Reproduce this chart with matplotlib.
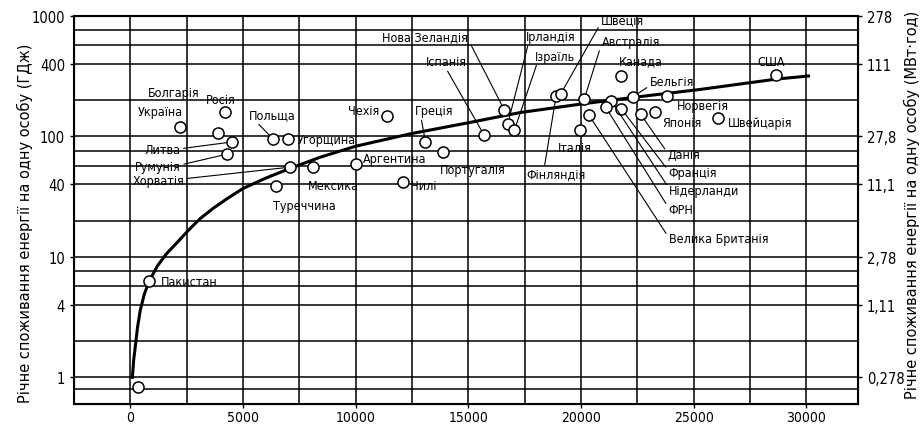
import matplotlib.pyplot as plt

plt.rcParams['font.family'] = ['DejaVu Sans']
plt.rcParams['font.stretch'] = 'condensed'

# data: GDP per person ($) and energy per person (GJ)
countries = ['Україна', 'Болгарія', 'Росія', 'Литва', 'Румунія', 'Хорватія',
             'Польща', 'Угорщина', 'Туреччина', 'Мексика', 'Аргентина', 'Чилі',
             'Чехія', 'Греція', 'Португалія', 'Іспанія', 'Нова Зеландія',
             'Ірландія', 'Ізраїль', 'Фінляндія', 'Швеція', 'Австралія', 'Канада',
             'Бельгія', 'Норвегія', 'Японія', 'Швейцарія', 'США', 'Данія',
             'Франція', 'Нідерланди', 'ФРН', 'Велика Британія', 'Італія',
             'Пакистан', '']
gdp = [2200, 3900, 4200, 4500, 4300, 7100,
       6350, 7000, 6450, 8100, 10000, 12100,
       11400, 13100, 13900, 15700, 16600,
       16750, 17050, 18900, 19100, 20150, 21800,
       22300, 23800, 23300, 26100, 28650, 22650,
       21800, 21350, 21100, 20350, 19950,
       850, 350]
energy = [120, 107, 160, 90, 71.4, 55.7,
          95, 95, 38.7, 55.7, 59, 41.8,
          148, 90, 74.2, 103, 166,
          127, 113, 217, 225, 205, 318,
          213, 217, 160, 142, 324, 153,
          169, 197, 175, 151, 113,
          6.28, 0.83]

# trend curve
curve_x = [90, 150, 220, 320, 440, 620, 840, 1200, 1600, 2100, 2600, 3100,
           3700, 4300, 5000, 6000, 7000, 8400, 10000, 12400, 15000, 17300,
           20100, 22400, 25300, 28700, 30100]
curve_y = [1.0, 1.4, 1.8, 2.6, 3.6, 4.9, 6.3, 8.4, 10.6, 13.3, 16.8, 20.8,
           25.5, 30.5, 37, 45, 53.5, 67, 83, 105, 130, 158,
           187, 212, 246, 300, 318]

y_ticks = [1, 4, 10, 40, 100, 400, 1000]
y_tick_labels = ['1', '4', '10', '40', '100', '400', '1000']
y_tick_labels_mwh = ['0,278', '1,11', '2,78', '11,1', '27,8', '111', '278']
y_extra_grid = [0.8, 2, 5.7, 7.6, 20, 57, 76, 200, 570, 760]
x_ticks = [0, 5000, 10000, 15000, 20000, 25000, 30000]
x_extra_grid = [2500, 7500, 12500, 17500, 22500, 27500]

# label placement: offset in pixels, alignment, leader start (relpos) or None
layout = {
    'Україна': (-20, 15, 'center', None),
    'Болгарія': (-45, 40, 'center', None),
    'Росія': (-4, 12, 'center', None),
    'Литва': (-69, -8, 'center', (1, 0.6)),
    'Румунія': (-69, -12, 'center', (1, 0.6)),
    'Хорватія': (-132, -13, 'center', (1, 0.6)),
    'Польща': (-1, 24, 'center', (0.15, 0)),
    'Угорщина': (9, 0, 'left', None),
    'Туреччина': (29, -19, 'center', None),
    'Мексика': (21, -18, 'center', None),
    'Аргентина': (7, 6, 'left', None),
    'Чилі': (8, -3, 'left', None),
    'Чехія': (-24, 5, 'center', None),
    'Греція': (9, 31, 'center', (0.15, 0)),
    'Португалія': (29, -17, 'center', None),
    'Іспанія': (-38, 73, 'center', (0.5, 0)),
    'Нова Зеландія': (-79, 73, 'center', (1, 0.3)),
    'Ірландія': (43, 87, 'center', (0.05, 0)),
    'Ізраїль': (41, 74, 'center', (0.05, 0)),
    'Фінляндія': (0, -78, 'center', (0.3, 1)),
    'Швеція': (62, 74, 'center', (0, 0.3)),
    'Австралія': (47, 57, 'center', (0, 0.5)),
    'Канада': (19, 15, 'center', None),
    'Бельгія': (39, 15, 'center', (0, 0.2)),
    'Норвегія': (36, -10, 'center', None),
    'Японія': (27, -11, 'center', None),
    'Швейцарія': (10, -4, 'left', None),
    'США': (-5, 14, 'center', None),
    'Данія': (27, -40, 'left', (0, 0.6)),
    'Франція': (47, -63, 'left', (0, 0.6)),
    'Нідерланди': (58, -89, 'left', (0, 0.6)),
    'ФРН': (63, -102, 'left', (0, 0.6)),
    'Велика Британія': (80, -124, 'left', (0, 0.6)),
    'Італія': (-5, -17, 'center', None),
    'Пакистан': (11, 0, 'left', None),
}

fig = plt.figure(figsize=(9.24, 4.27), dpi=100)
ax = fig.add_axes([0.0801, 0.0515, 0.8485, 0.9085])
ax.set_yscale('log')
ax.set_xlim(-2500, 32300)
ax.set_ylim(0.6, 1000)

for v in y_ticks + y_extra_grid:
    ax.axhline(v, color='black', lw=1.1, zorder=1)
for v in x_ticks + x_extra_grid:
    ax.axvline(v, color='black', lw=1.1, zorder=1)

ax.plot(curve_x, curve_y, color='black', lw=2.2, zorder=3)
ax.scatter(gdp, energy, s=64, facecolor='white', edgecolor='black',
           linewidth=1.1, zorder=4)

for name, x, y in zip(countries, gdp, energy):
    if name not in layout:
        continue
    dx, dy, ha, rel = layout[name]
    props = None
    if rel is not None:
        props = dict(arrowstyle='-', color='black', lw=0.8, relpos=rel,
                     shrinkA=0, shrinkB=4)
    ax.annotate(name, (x, y), xytext=(dx, dy), textcoords='offset pixels',
                ha=ha, va='center', fontsize=9,
                arrowprops=props, zorder=5)

ax.set_xticks(x_ticks)
ax.set_xticklabels([str(t) for t in x_ticks])
ax.set_yticks(y_ticks)
ax.set_yticklabels(y_tick_labels)
ax.minorticks_off()
ax.tick_params(labelsize=10.5, length=3, width=1)
ax.tick_params(axis='x', labelsize=10, pad=1.5)
for s in ax.spines.values():
    s.set_linewidth(1.5)

ax2 = ax.twinx()
ax2.set_yscale('log')
ax2.set_ylim(ax.get_ylim())
ax2.set_yticks(y_ticks)
ax2.set_yticklabels(y_tick_labels_mwh)
ax2.minorticks_off()
ax2.tick_params(labelsize=10.5, length=3, width=1)

fig.text(25 / 924, 0.478, 'Річне споживання енергії на одну особу (ГДж)',
         rotation=90, ha='center', va='center', fontsize=10.5,
         fontstretch='normal')
fig.text(912 / 924, 0.52, 'Річне споживання енергії на одну особу (МВт·год)',
         rotation=90, ha='center', va='center', fontsize=10.5,
         fontstretch='normal')

fig.savefig('out.png', dpi=100)
